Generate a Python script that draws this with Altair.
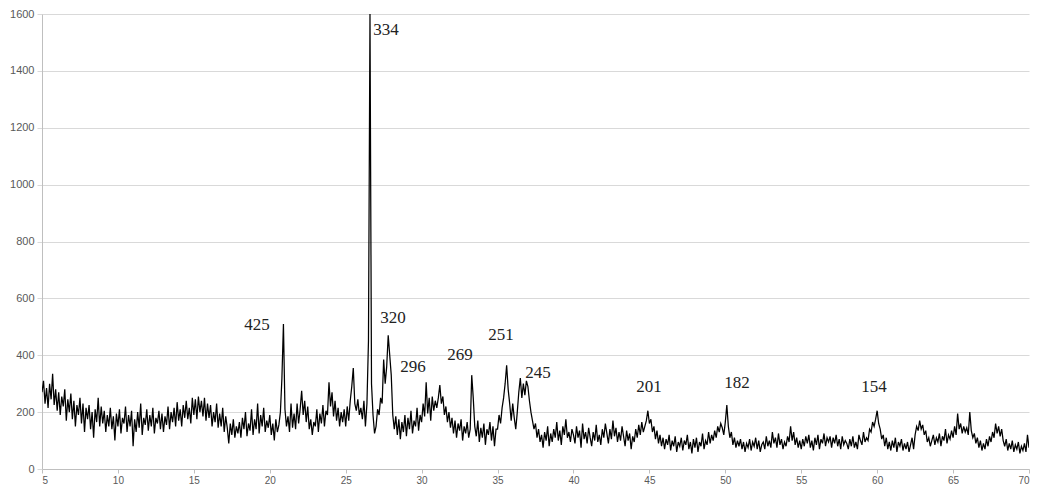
import altair as alt
import pandas as pd

# XRD pattern: intensity sampled every 0.1 degree 2-theta, one row per degree (5.0 .. 69.9) plus 70.0
rows = [
    [270, 310, 230, 285, 215, 300, 245, 335, 225, 280],   # 5
    [205, 270, 190, 255, 220, 280, 170, 245, 200, 265],   # 6
    [175, 240, 150, 225, 190, 250, 160, 230, 130, 215],   # 7
    [175, 225, 140, 200, 110, 210, 165, 250, 150, 220],   # 8
    [160, 205, 130, 190, 150, 215, 140, 185, 100, 195],   # 9
    [150, 210, 125, 180, 160, 220, 130, 190, 150, 205],   # 10
    [80, 175, 130, 200, 145, 230, 120, 180, 155, 210],    # 11
    [135, 190, 150, 215, 125, 180, 160, 205, 140, 195],   # 12
    [130, 185, 155, 220, 140, 200, 165, 215, 150, 235],   # 13
    [170, 210, 150, 225, 180, 240, 175, 215, 160, 250],   # 14
    [190, 245, 175, 255, 200, 240, 185, 250, 170, 230],   # 15
    [180, 225, 150, 200, 165, 230, 145, 195, 150, 215],   # 16
    [130, 185, 145, 90, 160, 120, 175, 110, 150, 125],    # 17
    [165, 110, 180, 140, 200, 115, 160, 135, 210, 120],   # 18
    [175, 140, 230, 125, 190, 150, 215, 130, 170, 145],   # 19
    [190, 120, 160, 100, 175, 130, 155, 200, 320, 510],   # 20
    [210, 150, 185, 130, 230, 145, 195, 140, 230, 160],   # 21
    [210, 275, 190, 240, 165, 220, 140, 175, 120, 165],   # 22
    [150, 210, 130, 195, 160, 225, 150, 205, 190, 305],   # 23
    [220, 270, 185, 240, 170, 215, 150, 200, 165, 210],   # 24
    [150, 220, 170, 240, 290, 355, 230, 205, 245, 190],   # 25
    [215, 175, 240, 150, 230, 450, 1600, 300, 190, 125],  # 26
    [150, 210, 190, 250, 230, 385, 300, 360, 470, 400],   # 27
    [330, 190, 140, 185, 120, 175, 105, 165, 130, 190],   # 28
    [115, 180, 140, 205, 125, 170, 150, 215, 135, 190],   # 29
    [165, 230, 185, 305, 195, 250, 170, 255, 205, 240],   # 30
    [215, 250, 295, 230, 255, 190, 220, 165, 200, 145],   # 31
    [180, 125, 170, 110, 160, 135, 175, 100, 150, 125],   # 32
    [165, 110, 140, 330, 250, 150, 115, 170, 95, 145],    # 33
    [110, 160, 85, 140, 120, 165, 100, 150, 80, 140],     # 34
    [140, 190, 160, 215, 250, 300, 365, 280, 230, 170],   # 35
    [230, 180, 140, 200, 270, 320, 250, 300, 260, 310],   # 36
    [290, 240, 200, 170, 140, 160, 110, 140, 95, 120],    # 37
    [75, 130, 100, 150, 80, 125, 95, 140, 110, 165],      # 38
    [100, 135, 85, 150, 120, 175, 110, 130, 95, 140],     # 39
    [120, 90, 150, 110, 135, 75, 160, 105, 130, 90],      # 40
    [145, 110, 80, 130, 100, 155, 95, 120, 85, 140],      # 41
    [110, 160, 125, 90, 140, 105, 170, 115, 145, 95],     # 42
    [130, 100, 150, 115, 80, 135, 100, 125, 70, 115],     # 43
    [95, 140, 110, 155, 120, 165, 130, 150, 170, 205],    # 44
    [160, 175, 130, 150, 105, 135, 90, 120, 80, 110],     # 45
    [70, 105, 85, 120, 65, 100, 80, 115, 60, 95],         # 46
    [80, 110, 65, 100, 85, 120, 70, 95, 55, 105],         # 47
    [75, 110, 60, 95, 80, 125, 70, 100, 85, 130],         # 48
    [90, 120, 100, 135, 110, 150, 130, 160, 145, 120],    # 49
    [165, 225, 150, 110, 130, 85, 110, 75, 100, 80],      # 50
    [105, 70, 95, 60, 90, 75, 105, 65, 95, 80],           # 51
    [110, 70, 100, 60, 85, 95, 70, 115, 80, 100],         # 52
    [75, 130, 90, 110, 75, 125, 85, 105, 70, 95],         # 53
    [80, 115, 95, 150, 100, 130, 85, 110, 75, 100],       # 54
    [70, 105, 80, 115, 90, 120, 75, 100, 65, 110],        # 55
    [85, 120, 70, 105, 90, 125, 80, 110, 95, 115],        # 56
    [75, 110, 90, 120, 80, 105, 70, 115, 85, 100],        # 57
    [90, 70, 105, 80, 115, 75, 95, 70, 120, 100],         # 58
    [85, 130, 95, 110, 100, 140, 130, 165, 150, 175],     # 59
    [205, 160, 140, 105, 120, 80, 110, 70, 95, 65],       # 60
    [100, 75, 110, 60, 95, 80, 105, 65, 90, 70],          # 61
    [95, 60, 85, 110, 70, 120, 150, 135, 170, 140],       # 62
    [155, 120, 135, 95, 110, 80, 100, 120, 85, 110],      # 63
    [95, 125, 80, 115, 100, 140, 90, 120, 105, 135],      # 64
    [110, 150, 120, 195, 140, 160, 125, 150, 130, 145],   # 65
    [120, 200, 135, 110, 125, 90, 110, 75, 100, 65],      # 66
    [90, 70, 105, 80, 115, 95, 130, 110, 160, 125],       # 67
    [150, 115, 140, 100, 80, 105, 65, 90, 70, 100],       # 68
    [60, 85, 70, 95, 55, 80, 65, 90, 60, 120],            # 69
]
last_value = 75  # 70.0

intensity = [v for r in rows for v in r] + [last_value]
two_theta = [round(5 + i / 10, 1) for i in range(len(intensity))]

# peak annotations (text, x, y)
ann_text = ["334", "425", "320", "296", "269", "251", "245", "201", "182", "154"]
ann_x = [27.65, 19.16, 28.12, 29.43, 32.53, 35.23, 37.66, 44.97, 50.77, 59.79]
ann_y = [1544, 505, 530, 358, 400, 470, 337, 288, 302, 288]

df = pd.DataFrame({"x": two_theta, "y": intensity})
ann = pd.DataFrame({"t": ann_text, "x": ann_x, "y": ann_y})

xscale = alt.Scale(domain=[5, 70], nice=False, zero=False)
yscale = alt.Scale(domain=[0, 1600], nice=False)

line = alt.Chart(df).mark_line(color="#000000", strokeWidth=1.25, clip=True).encode(
    x=alt.X("x:Q", scale=xscale, title=None,
            axis=alt.Axis(values=list(range(5, 71, 5)), grid=False, labelFontSize=10,
                          labelColor="#595959", tickColor="#bfbfbf", tickSize=4, format="d",
                          domainColor="#bfbfbf", labelPadding=2, labelFont="Liberation Sans")),
    y=alt.Y("y:Q", scale=yscale, title=None,
            axis=alt.Axis(values=list(range(0, 1601, 200)), grid=True, gridColor="#d9d9d9",
                          labelFontSize=11, labelColor="#595959", tickColor="#d9d9d9",
                          tickSize=5, domainColor="#bfbfbf", labelPadding=3, format="d",
                          labelFont="Liberation Sans")),
)

text = alt.Chart(ann).mark_text(font="Liberation Serif", fontSize=17, color="#222222",
                                align="center", baseline="middle").encode(
    x=alt.X("x:Q", scale=xscale),
    y=alt.Y("y:Q", scale=yscale),
    text="t:N",
)

chart = (line + text).properties(
    width=987, height=455,
    padding={"left": 34, "top": 6, "right": 2, "bottom": 15},
    autosize=alt.AutoSizeParams(type="none"),
    background="white",
).configure_view(stroke=None)

chart.save("out.html", embed_options={"renderer": "svg", "actions": False})
